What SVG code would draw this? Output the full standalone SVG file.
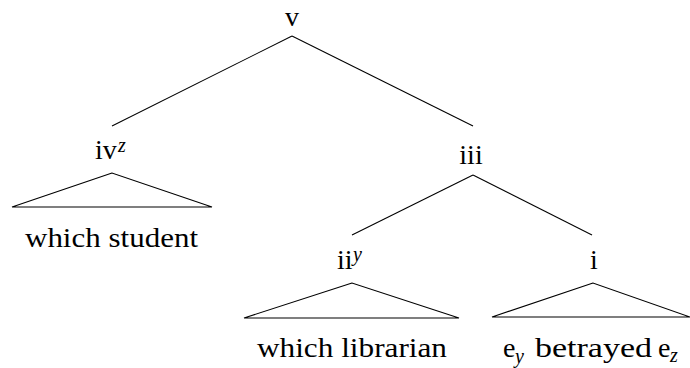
<svg xmlns="http://www.w3.org/2000/svg" width="690" height="368" viewBox="0 0 690 368">
<style>
.t{font-family:'Liberation Serif','DejaVu Serif',serif;font-size:28px;fill:#000}
.sup{font-style:italic;font-size:20px}
.ln{stroke:#000;stroke-width:1.1;fill:none}
</style>
<rect width="690" height="368" fill="#fff"/>
<g id="connectors" class="ln">
<line x1="292" y1="36" x2="112" y2="126"/>
<line x1="292" y1="36" x2="473" y2="126"/>
<line x1="473" y1="175" x2="352" y2="235"/>
<line x1="473" y1="175" x2="592" y2="235"/>
</g>
<g id="v"><text class="t" x="292" y="26" text-anchor="middle">v</text></g>
<g id="iv">
<text class="t" x="95" y="159">iv<tspan class="sup" x="118" y="152">z</tspan></text>
<polygon class="ln" points="112,173 12,207 212,207"/>
<text class="t" x="111.5" y="247" text-anchor="middle" textLength="173" lengthAdjust="spacingAndGlyphs">which student</text>
</g>
<g id="iii"><text class="t" x="471" y="164" text-anchor="middle">iii</text></g>
<g id="ii">
<text class="t" x="337" y="269">ii<tspan class="sup" x="353" y="261">y</tspan></text>
<polygon class="ln" points="352,283 244,318 459,318"/>
<text class="t" x="352" y="357" text-anchor="middle" textLength="190" lengthAdjust="spacingAndGlyphs">which librarian</text>
</g>
<g id="i">
<text class="t" x="594" y="269" text-anchor="middle">i</text>
<polygon class="ln" points="593,283 492,317 690,317"/>
<text class="t" x="503" y="357">e<tspan class="sup" x="515" y="363">y</tspan></text>
<text class="t" x="535" y="357" textLength="117" lengthAdjust="spacingAndGlyphs">betrayed</text>
<text class="t" x="658" y="357">e<tspan class="sup" x="670" y="362">z</tspan></text>
</g>
</svg>
